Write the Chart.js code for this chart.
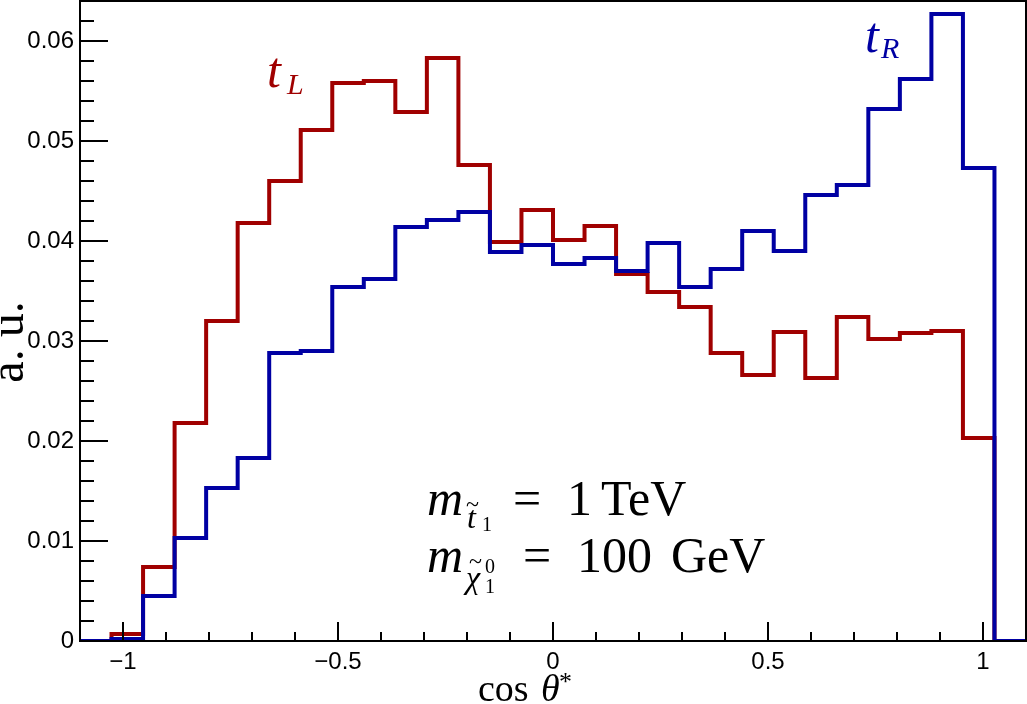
<!DOCTYPE html>
<html>
<head>
<meta charset="utf-8">
<title>cos theta* distribution</title>
<script src="https://cdn.jsdelivr.net/npm/chart.js@4.4.1/dist/chart.umd.min.js"></script>
<style>
    html, body { margin: 0; padding: 0; background: #fff; }
    canvas { display: block; }
</style>
</head>
<body>
<canvas id="myChart" width="1027" height="704"></canvas>
<script>
// histogram binning: 30 bins from -1.1 to 1.1
const histRange = [-1.1, 1.1];
const nBins = 30;

// bin contents
const tLeft = [0, 0.0007, 0.0074, 0.0218, 0.0320, 0.0418, 0.0460, 0.0511, 0.0558, 0.0560,
    0.0529, 0.0583, 0.0476, 0.0399, 0.0431, 0.0401, 0.0415, 0.0367, 0.0349, 0.0334,
    0.0288, 0.0266, 0.0309, 0.0263, 0.0324, 0.0302, 0.0308, 0.0310, 0.0203, 0];
const tRight = [0, 0.0002, 0.0045, 0.0103, 0.0153, 0.0183, 0.0288, 0.0290, 0.0354, 0.0362,
    0.0414, 0.0421, 0.0429, 0.0389, 0.0396, 0.0377, 0.0383, 0.0370, 0.0398, 0.0354,
    0.0372, 0.0410, 0.0390, 0.0446, 0.0456, 0.0532, 0.0562, 0.0627, 0.0473, 0];

// axis ticks
const xTickValues = [-1, -0.5, 0, 0.5, 1];
const xTickLabels = ['\u22121', '\u22120.5', '0', '0.5', '1'];
const yTickValues = [0, 0.01, 0.02, 0.03, 0.04, 0.05, 0.06];
const yTickLabels = ['0', '0.01', '0.02', '0.03', '0.04', '0.05', '0.06'];
const yMax = 0.064;

const red = '#a00000';
const blue = '#0000a3';

// turn bin contents into step points at the bin edges
function toSteps(values) {
    const width = (histRange[1] - histRange[0]) / nBins;
    let pts = values.map((v, i) => ({ x: histRange[0] + i * width, y: v }));
    pts.push({ x: histRange[1], y: values[values.length - 1] });
    return pts;
}

// ROOT style inner ticks, frame and labels
const rootStyle = {
    id: 'rootStyle',
    afterDraw(chart) {
        const ctx = chart.ctx;
        const xs = chart.scales.x;
        const ys = chart.scales.y;
        const area = chart.chartArea;

        ctx.save();
        ctx.strokeStyle = '#000';
        ctx.lineWidth = 2;

        // frame
        ctx.strokeRect(area.left, area.top, area.right - area.left, area.bottom - area.top);

        // y ticks (major every 0.01, minor every 0.002)
        for (let i = 0; i <= 32; i++) {
            const v = i * 0.002;
            const py = ys.getPixelForValue(v);
            const len = (i % 5 === 0) ? 28 : 14;
            ctx.beginPath();
            ctx.moveTo(area.left, py);
            ctx.lineTo(area.left + len, py);
            ctx.stroke();
        }

        // x ticks (major every 0.5, minor every 0.1)
        for (let i = -10; i <= 10; i++) {
            const v = i * 0.1;
            const px = xs.getPixelForValue(v);
            const len = (i % 5 === 0) ? 19 : 9;
            ctx.beginPath();
            ctx.moveTo(px, area.bottom);
            ctx.lineTo(px, area.bottom - len);
            ctx.stroke();
        }

        ctx.textAlign = 'left';
        ctx.textBaseline = 'alphabetic';

        // curve labels
        ctx.fillStyle = red;
        ctx.font = "italic 50px 'Liberation Serif'";
        ctx.fillText('t', 267, 87);
        ctx.font = "italic 30px 'Liberation Serif'";
        ctx.fillText('L', 287, 94);

        ctx.fillStyle = blue;
        ctx.font = "italic 50px 'Liberation Serif'";
        ctx.fillText('t', 865, 52);
        ctx.font = "italic 30px 'Liberation Serif'";
        ctx.fillText('R', 881, 58);

        // mass annotation
        ctx.fillStyle = '#000';
        ctx.font = "italic 50px 'Liberation Serif'";
        ctx.fillText('m', 427, 515);
        ctx.fillText('m', 427, 572);
        ctx.font = "italic 32px 'Liberation Serif'";
        ctx.fillText('t', 467, 528);
        ctx.fillText('\u03c7', 466, 588);
        ctx.font = "24px 'Liberation Serif'";
        ctx.fillText('~', 466, 512);
        ctx.fillText('~', 469, 569);
        ctx.font = "20px 'Liberation Serif'";
        ctx.fillText('1', 482, 531);
        ctx.fillText('0', 485, 573);
        ctx.fillText('1', 485, 593);
        ctx.font = "50px 'Liberation Serif'";
        ctx.fillText('=', 513, 515);
        ctx.fillText('1', 567, 515);
        ctx.fillText('TeV', 601, 515);
        ctx.fillText('=', 523, 572);
        ctx.fillText('100', 577, 572);
        ctx.fillText('GeV', 671, 572);

        // x title
        ctx.font = "38px 'Liberation Serif'";
        ctx.fillText('cos', 478, 701);
        ctx.font = "italic 38px 'Liberation Serif'";
        ctx.fillText('\u03b8', 541, 701);
        ctx.font = "26px 'Liberation Serif'";
        ctx.fillText('*', 559, 690);

        // y title
        ctx.translate(23, 342);
        ctx.rotate(-Math.PI / 2);
        ctx.textAlign = 'center';
        ctx.font = "48px 'Liberation Serif'";
        ctx.fillText('a. u.', 0, 0);

        ctx.restore();
    }
};

let ctx = document.getElementById('myChart').getContext('2d');
let histChart = new Chart(ctx, {
    type: 'line',
    data: {
        datasets: [{
            label: 't_R',
            data: toSteps(tRight),
            borderColor: blue,
            borderWidth: 4,
            stepped: 'before',
            pointRadius: 0,
            fill: false
        }, {
            label: 't_L',
            data: toSteps(tLeft),
            borderColor: red,
            borderWidth: 4,
            stepped: 'before',
            pointRadius: 0,
            fill: false
        }]
    },
    options: {
        responsive: false,
        animation: false,
        devicePixelRatio: 1,
        layout: { padding: { left: 0, right: 1, top: 1, bottom: 0 } },
        plugins: {
            legend: { display: false },
            tooltip: { enabled: false }
        },
        scales: {
            x: {
                type: 'linear',
                min: histRange[0],
                max: histRange[1],
                grid: { display: false, drawTicks: false },
                border: { display: true, color: '#000', width: 2 },
                afterBuildTicks: scale => {
                    scale.ticks = xTickValues.map(v => ({ value: v }));
                },
                afterFit: scale => {
                    scale.height = 63;
                    scale.paddingLeft = 0;
                    scale.paddingRight = 0;
                },
                ticks: {
                    autoSkip: false,
                    maxRotation: 0,
                    padding: 7,
                    color: '#000',
                    font: { family: "'Liberation Sans', Arial, sans-serif", size: 24 },
                    callback: (value, index) => xTickLabels[index]
                }
            },
            y: {
                type: 'linear',
                min: 0,
                max: yMax,
                grid: { display: false, drawTicks: false },
                border: { display: true, color: '#000', width: 2 },
                afterBuildTicks: scale => {
                    scale.ticks = yTickValues.map(v => ({ value: v }));
                },
                afterFit: scale => {
                    scale.width = 80;
                    scale.paddingTop = 0;
                    scale.paddingBottom = 0;
                },
                ticks: {
                    autoSkip: false,
                    padding: 6,
                    color: '#000',
                    font: { family: "'Liberation Sans', Arial, sans-serif", size: 24 },
                    callback: (value, index) => yTickLabels[index]
                }
            }
        }
    },
    plugins: [rootStyle]
});
</script>
</body>
</html>
